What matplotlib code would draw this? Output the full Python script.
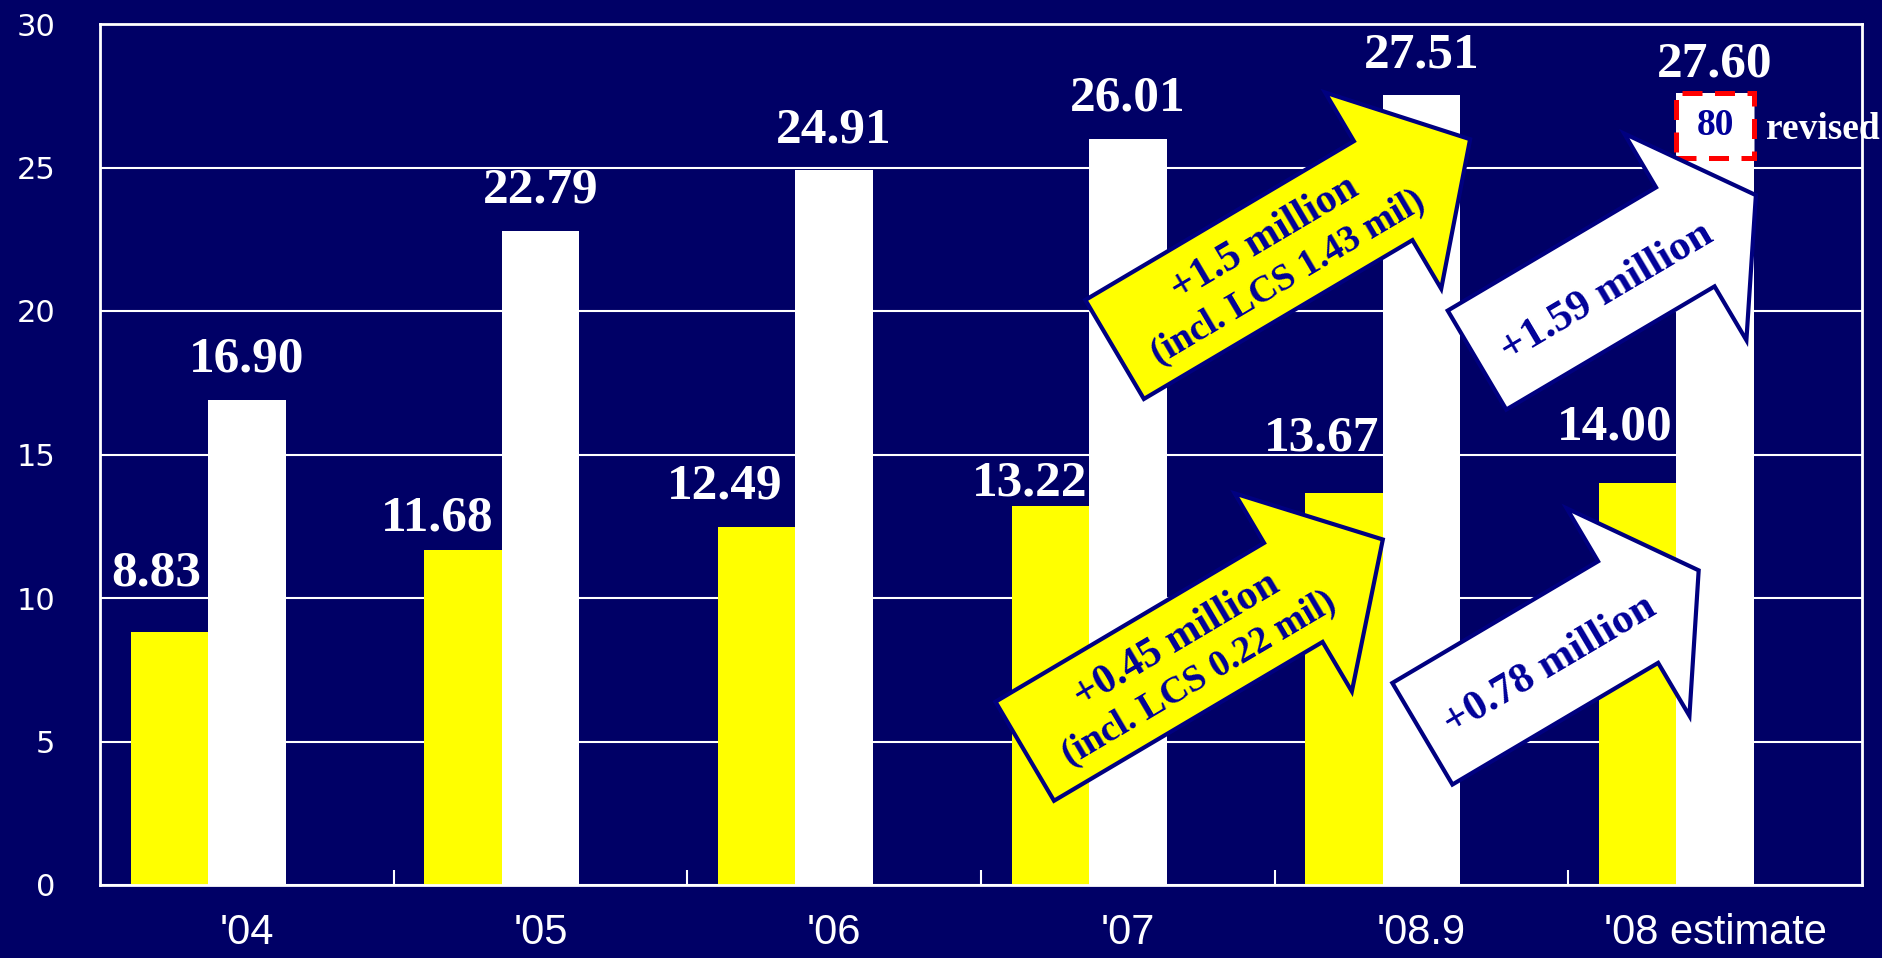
import numpy as np
import matplotlib
matplotlib.use("Agg")
import matplotlib.pyplot as plt
from matplotlib.patches import Polygon, Rectangle
from matplotlib.transforms import IdentityTransform

# ---------------- data ----------------
categories = ["'04", "'05", "'06", "'07", "'08.9", "'08 estimate"]
yellow_vals = [8.83, 11.68, 12.49, 13.22, 13.67, 14.00]
white_vals = [16.90, 22.79, 24.91, 26.01, 27.51, 27.60]
yticks = [0, 5, 10, 15, 20, 25, 30]
revised_note = "80"

# ---------------- style ----------------
BG = "#000066"
YEL = "#FFFF00"
NAVY_EDGE = "#000080"
NAVY_TXT = "#000099"
SERIF = ["Liberation Serif", "DejaVu Serif"]
W, H, DPI = 1883, 958, 100

fig = plt.figure(figsize=(W / DPI, H / DPI), dpi=DPI, facecolor=BG)
ax = fig.add_axes([100 / W, 1 - 885 / H, 1762 / W, 861 / H])
ax.set_facecolor(BG)
ax.set_xlim(-0.5, 5.5)
ax.set_ylim(0, 30)

x = np.arange(len(categories))
bw = 0.264
ax.bar(x - bw, yellow_vals, width=bw, color=YEL, zorder=2)
ax.bar(x, white_vals, width=bw, color="white", zorder=2)

# axes styling
ax.set_yticks(yticks)
ax.set_yticklabels([str(t) for t in yticks], fontsize=22, color="white",
                   family=["DejaVu Sans"])
ax.set_xticks(x)
ax.set_xticklabels(categories, fontsize=30, color="white",
                   family=["Liberation Sans", "DejaVu Sans"])
ax.set_xticks(x[:-1] + 0.5, minor=True)
ax.tick_params(axis="y", length=0, pad=32)
ax.tick_params(axis="x", which="major", length=0, pad=20)
ax.tick_params(axis="x", which="minor", direction="in", length=11,
               width=1.5, color="white")
ax.grid(axis="y", color="white", lw=1.5, zorder=1)
ax.set_axisbelow(True)
for s in ax.spines.values():
    s.set_color("white")
    s.set_linewidth(2)

# value labels (offsets in pixels)
y_dx = [-13, -26, -32, -21, -22, -23]
y_dy = [46, 19, 28, 10, 42, 44]
w_dy = [28, 28, 28, 28, 28, 16]
lab_kw = dict(textcoords="offset points", ha="center", va="baseline",
              family=SERIF, fontweight="bold", fontsize=37, color="white",
              zorder=4)
for i in range(len(categories)):
    ax.annotate(f"{yellow_vals[i]:.2f}", (x[i] - bw, yellow_vals[i]),
                xytext=(y_dx[i] * 0.72, y_dy[i] * 0.72), **lab_kw)
    ax.annotate(f"{white_vals[i]:.2f}", (x[i], white_vals[i]),
                xytext=(0, w_dy[i] * 0.72), **lab_kw)

# revised box on the last white bar
ax.add_patch(Rectangle((x[-1] - bw / 2, 25.33), bw, white_vals[-1] - 25.33,
                       facecolor="white", edgecolor="#FF0000", lw=3.6,
                       linestyle=(0, (4, 2.5)), zorder=6, clip_on=False))
ax.text(x[-1], 26.45, revised_note, ha="center", va="center", family=SERIF,
        fontweight="bold", fontsize=27, color=NAVY_TXT, zorder=7)
ax.annotate("revised", (x[-1] + bw / 2, 26.31), xytext=(9, 0),
            textcoords="offset points", ha="left", va="center", family=SERIF,
            fontweight="bold", fontsize=27, color="white", zorder=7,
            annotation_clip=False)

# block arrows (geometry in pixels, anchored at data positions)
ident = IdentityTransform()


def block_arrow(x0, y0, L, hl, sw, hw, ang, fc, lines, sizes, frac=0.45,
                perp=-4, gap=45):
    px, py = ax.transData.transform((x0, y0))
    t = np.deg2rad(ang)
    u = np.array([np.cos(t), np.sin(t)])
    v = np.array([-np.sin(t), np.cos(t)])
    local = [(0, sw / 2), (L - hl, sw / 2), (L - hl, hw / 2), (L, 0),
             (L - hl, -hw / 2), (L - hl, -sw / 2), (0, -sw / 2)]
    pts = [(px + a * u[0] + b * v[0], py + a * u[1] + b * v[1]) for a, b in local]
    fig.add_artist(Polygon(pts, closed=True, facecolor=fc, edgecolor=NAVY_EDGE,
                           lw=3, transform=ident, zorder=5))
    c = np.array([px, py]) + frac * L * u + perp * v
    n = len(lines)
    for k, (txt, fs) in enumerate(zip(lines, sizes)):
        off = ((n - 1) / 2 - k) * gap
        p = c + off * v
        fig.text(p[0], p[1], txt, transform=ident, rotation=ang,
                 rotation_mode="anchor", ha="center", va="center",
                 family=SERIF, fontweight="bold", fontsize=fs,
                 color=NAVY_TXT, zorder=8)


block_arrow(2.955, 18.66, 413, 101, 115, 228, 30.6, YEL,
            ["+1.5 million", "(incl. LCS 1.43 mil)"], [30, 27])
block_arrow(2.649, 4.66, 416, 104, 115, 230, 30.6, YEL,
            ["+0.45 million", "(incl. LCS 0.22 mil)"], [30, 27])
block_arrow(4.189, 18.29, 324, 82, 115, 240, 30.6, "white",
            ["+1.59 million"], [31], perp=-8)
block_arrow(4.003, 5.27, 321, 82, 118, 241, 30.6, "white",
            ["+0.78 million"], [31], perp=-6)

fig.savefig("out.png", dpi=DPI, facecolor=BG)
